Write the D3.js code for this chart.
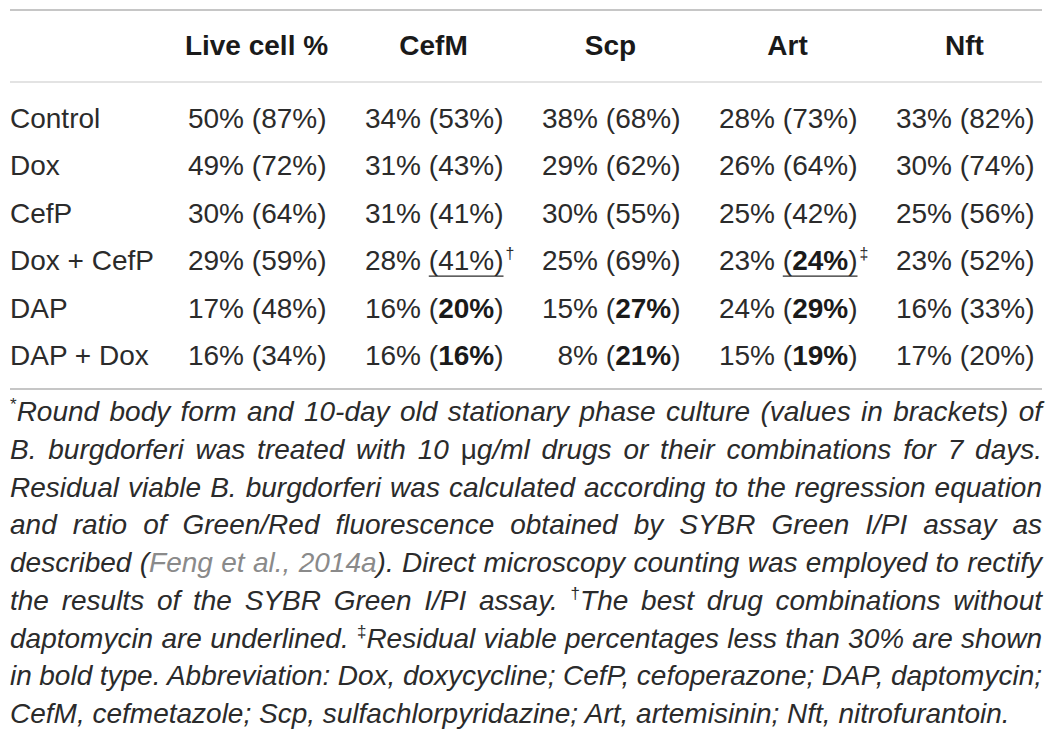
<!DOCTYPE html>
<html>
<head>
<meta charset="utf-8">
<script src="https://cdn.jsdelivr.net/npm/d3@7"></script>
<style>
  body { margin: 0; background: #fff; }
  svg { display: block; }
  text { font-family: "Liberation Sans", Arial, sans-serif; fill: #2b2b2b; }
</style>
</head>
<body>
<div id="chart-area"></div>
<script>
// rows and columns of the table
const treatments = ["Control", "Dox", "CefP", "Dox + CefP", "DAP", "DAP + Dox"];
const drugs = ["Live cell %", "CefM", "Scp", "Art", "Nft"];

// round body form %, stationary phase % (values in brackets)
const liveRound = [50, 49, 30, 29, 17, 16];
const liveStat  = [87, 72, 64, 59, 48, 34];
const cefmRound = [34, 31, 31, 28, 16, 16];
const cefmStat  = [53, 43, 41, 41, 20, 16];
const scpRound  = [38, 29, 30, 25, 15, 8];
const scpStat   = [68, 62, 55, 69, 27, 21];
const artRound  = [28, 26, 25, 23, 24, 15];
const artStat   = [73, 64, 42, 24, 29, 19];
const nftRound  = [33, 30, 25, 23, 16, 17];
const nftStat   = [82, 74, 56, 52, 33, 20];

// bracket values shown bold, and underlined ones with their footnote mark
const boldCells = [["CefM", "DAP"], ["CefM", "DAP + Dox"], ["Scp", "DAP"], ["Scp", "DAP + Dox"],
                   ["Art", "Dox + CefP"], ["Art", "DAP"], ["Art", "DAP + Dox"]];
const underlinedCells = [["CefM", "Dox + CefP", "\u2020"], ["Art", "Dox + CefP", "\u2021"]];

// footnote, one entry per printed line: [text, kind]
const footnote = [
  [["*", "sup"], ["Round body form and 10-day old stationary phase culture (values in brackets) of"]],
  [["B. burgdorferi was treated with 10 "], ["\u03bc", "upright"], ["g/ml drugs or their combinations for 7 days."]],
  [["Residual viable B. burgdorferi was calculated according to the regression equation"]],
  [["and ratio of Green/Red fluorescence obtained by SYBR Green I/PI assay as"]],
  [["described ("], ["Feng et al., 2014a", "cite"], ["). Direct microscopy counting was employed to rectify"]],
  [["the results of the SYBR Green I/PI assay. "], ["\u2020", "sup"], ["The best drug combinations without"]],
  [["daptomycin are underlined. "], ["\u2021", "sup"], ["Residual viable percentages less than 30% are shown"]],
  [["in bold type. Abbreviation: Dox, doxycycline; CefP, cefoperazone; DAP, daptomycin;"]],
  [["CefM, cefmetazole; Scp, sulfachlorpyridazine; Art, artemisinin; Nft, nitrofurantoin."]]
];

const roundVals = [liveRound, cefmRound, scpRound, artRound, nftRound];
const statVals = [liveStat, cefmStat, scpStat, artStat, nftStat];

const width = 1052, height = 743;
const left = 10, right = 1042;

const svg = d3.select("#chart-area").append("svg")
    .attr("width", width)
    .attr("height", height);

const x = d3.scaleBand().domain(drugs).range([168, 1053]);
const y = d3.scalePoint().domain(treatments).range([128, 365]);
const lineY = d3.scaleLinear().domain([0, footnote.length - 1]).range([421, 723]);

// rules
const rules = [{y: 10, c: "#b3b3b3"}, {y: 82, c: "#dadada"}, {y: 389, c: "#b3b3b3"}];
svg.selectAll("line.rule")
    .data(rules)
    .enter().append("line")
    .attr("class", "rule")
    .attr("x1", left).attr("x2", right)
    .attr("y1", d => d.y).attr("y2", d => d.y)
    .attr("stroke", d => d.c)
    .attr("stroke-width", 1.6);

// header
svg.selectAll("text.head")
    .data(drugs)
    .enter().append("text")
    .attr("class", "head")
    .attr("x", d => x(d) + x.bandwidth() / 2)
    .attr("y", 55)
    .attr("text-anchor", "middle")
    .attr("font-size", 28)
    .attr("font-weight", "bold")
    .style("fill", "#1a1a1a")
    .text(d => d);

// row labels
svg.selectAll("text.row")
    .data(treatments)
    .enter().append("text")
    .attr("class", "row")
    .attr("x", left)
    .attr("y", d => y(d))
    .attr("font-size", 28)
    .text(d => d);

// cells
const cells = [];
drugs.forEach((drug, j) => {
  treatments.forEach((t, i) => {
    const u = underlinedCells.find(c => c[0] === drug && c[1] === t);
    cells.push({
      drug: drug, treatment: t,
      round: roundVals[j][i], stat: statVals[j][i],
      bold: boldCells.some(c => c[0] === drug && c[1] === t),
      mark: u ? u[2] : null
    });
  });
});

const cellRight = d => x(d.drug) + x.bandwidth() / 2 + 70;

const cellText = svg.selectAll("text.cell")
    .data(cells)
    .enter().append("text")
    .attr("class", "cell")
    .attr("x", cellRight)
    .attr("y", d => y(d.treatment))
    .attr("text-anchor", "end")
    .attr("font-size", 28);

cellText.append("tspan").text(d => d.round + "% (");
cellText.append("tspan")
    .attr("font-weight", d => d.bold ? "bold" : null)
    .style("fill", d => d.bold ? "#1a1a1a" : null)
    .text(d => d.stat + "%");
cellText.append("tspan").text(")");

// underline and footnote marks
cellText.filter(d => d.mark).each(function(d) {
  const n = this.getNumberOfChars();
  const start = this.getStartPositionOfChar(String(d.round).length + 2).x;
  const end = this.getEndPositionOfChar(n - 1).x;
  const by = y(d.treatment);
  svg.append("line")
      .attr("x1", start).attr("x2", end)
      .attr("y1", by + 6).attr("y2", by + 6)
      .attr("stroke", "#2b2b2b")
      .attr("stroke-width", 1.2);
  svg.append("text")
      .attr("x", cellRight(d) + 2)
      .attr("y", by - 11)
      .attr("font-size", 16)
      .text(d.mark);
});

// footnote lines, justified except the last
const fn = svg.selectAll("text.note")
    .data(footnote)
    .enter().append("text")
    .attr("class", "note")
    .attr("x", left)
    .attr("y", (d, i) => lineY(i))
    .attr("font-size", 28)
    .attr("font-style", "italic");

fn.each(function(runs, i) {
  const t = d3.select(this);
  let shifted = false;
  runs.forEach(r => {
    const kind = r[1];
    const ts = t.append("tspan").text(r[0]);
    if (kind === "sup") {
      ts.attr("font-size", 17).attr("font-style", "normal").attr("dy", -11);
      shifted = true;
    } else if (shifted) {
      ts.attr("dy", 11);
      shifted = false;
    }
    if (kind === "cite") ts.style("fill", "#8a8a8a");
    if (kind === "upright") ts.attr("font-style", "normal");
  });
  if (i < footnote.length - 1) {
    const natural = this.getComputedTextLength();
    const gaps = runs.map(r => r[0]).join("").split(" ").length - 1;
    t.attr("word-spacing", (right - left - natural) / gaps);
  }
});
</script>
</body>
</html>
